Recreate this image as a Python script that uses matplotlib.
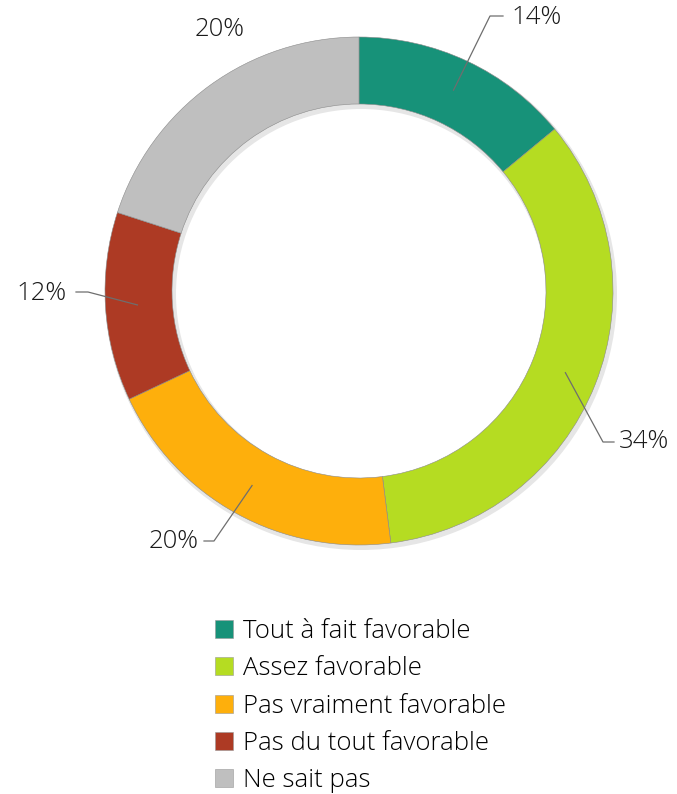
import matplotlib.pyplot as plt
from matplotlib.lines import Line2D
import numpy as np

plt.rcParams['font.family'] = ['Open Sans', 'DejaVu Sans']

categories = ['Tout à fait favorable', 'Assez favorable', 'Pas vraiment favorable',
              'Pas du tout favorable', 'Ne sait pas']
values = [14, 34, 20, 12, 20]
labels = ['14%', '34%', '20%', '12%', '20%']
colors = ['#179279', '#b5dc22', '#feaf0c', '#ad3a24', '#bfbfbf']

W, H = 677, 794
fig = plt.figure(figsize=(W / 100, H / 100), dpi=100)
ax = fig.add_axes([0, 0, 1, 1])

cx, cy = 359, H - 291
R = 254
ring = 67

# faint shadow under the ring
ax.pie([1], radius=R + 2, center=(cx + 2, cy - 3), colors=['#e6e6e6'],
       wedgeprops=dict(width=ring + 4, linewidth=0), frame=True)

wedges, _ = ax.pie(values, radius=R, center=(cx, cy), colors=colors,
                   startangle=90, counterclock=False, frame=True,
                   wedgeprops=dict(width=ring, edgecolor='#8a8a8a', linewidth=0.4))
ax.set_xlim(0, W)
ax.set_ylim(0, H)
ax.set_aspect('equal')
ax.axis('off')

# label text positions (pixels from top-left), elbow positions
label_pos = [(511, 18, 'left'), (619, 442, 'left'), (199, 541, 'right'),
             (67, 294, 'right'), (220, 30, 'center')]
elbows = [(490, 16, 503), (603, 442, 614), (214, 541, 204), (88, 292, 76), None]

for w, lab, (tx, ty, ha), el in zip(wedges, labels, label_pos, elbows):
    ang = np.deg2rad((w.theta1 + w.theta2) / 2)
    ax.text(tx, H - ty, lab, ha=ha, va='center', fontsize=18.5, color='#1a1a1a',
            fontweight='light')
    if el is not None:
        r = R - 32
        ax0, ay0 = cx + r * np.cos(ang), cy + r * np.sin(ang)
        ex, ey, endx = el
        ax.plot([ax0, ex, endx], [ay0, H - ey, H - ey], color='#6e6e6e', lw=0.9)

handles = [Line2D([], [], marker='s', linestyle='none', markersize=13,
                  markerfacecolor=c, markeredgecolor='#999999', markeredgewidth=0.4)
           for c in colors]
fig.legend(handles, categories, loc='upper left', bbox_to_anchor=(198 / W, 1 - 606 / H),
           frameon=False, prop=dict(size=18.5, weight='light'), handletextpad=0.25,
           labelspacing=0.48, handlelength=1.0, borderpad=0)

fig.savefig('out.png', dpi=100)
